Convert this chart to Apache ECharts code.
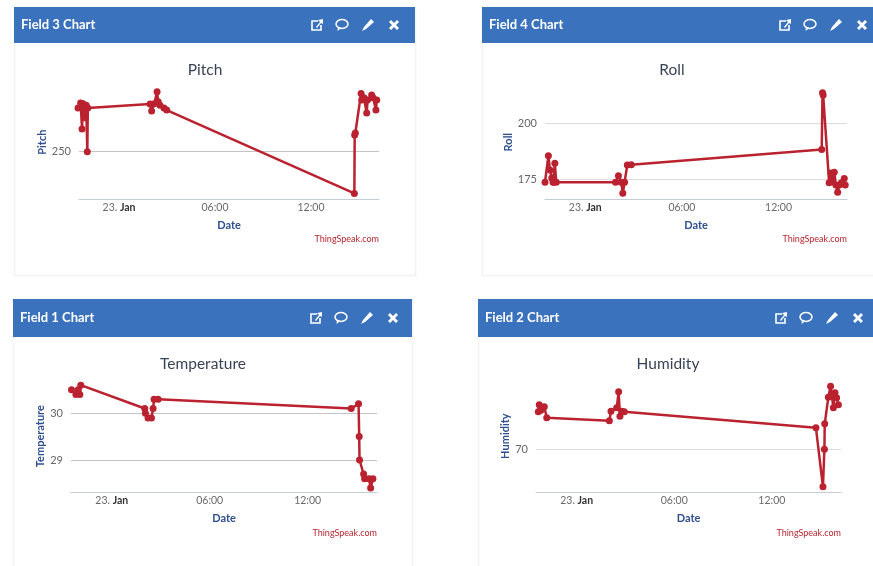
<!DOCTYPE html>
<html>
<head>
<meta charset="utf-8">
<title>ThingSpeak fields</title>
<script src="https://cdn.jsdelivr.net/npm/echarts@6/dist/echarts.min.js"></script>
<style>
  html, body { margin: 0; padding: 0; background: #fff; }
  #main { width: 873px; height: 566px; }
</style>
</head>
<body>
<div id="main"></div>
<script>
// hours are counted from midnight on 23 Jan
var tickHours = [0, 6, 12];
var tickLabels = ['{d|23.} {b|Jan}', '06:00', '12:00'];
var startHour = -2.5;
var endHour = 16.25;

var pitchHours = [-2.56, -2.4, -2.31, -2.25, -2.2, -2.13, -2.05, -1.98, -1.95, 1.94, 2.04, 2.2, 2.38, 2.45, 2.56, 2.81, 2.98, 14.71, 14.73, 14.77, 15.13, 15.17, 15.31, 15.48, 15.54, 15.79, 15.88, 16.06, 16.11];
var pitchValues = [281, 284.5, 266, 284, 279, 274, 283, 249.7, 281, 283.8, 278.8, 284, 292.6, 285.4, 283, 281, 279.5, 219.9, 261.6, 263.1, 291.4, 286.6, 288.3, 277.4, 286.6, 290.2, 288.3, 279.5, 286.6];

var rollHours = [-2.5, -2.29, -2.19, -2.08, -2, -1.94, -1.89, -1.8, 1.88, 2.06, 2.23, 2.33, 2.44, 2.61, 2.86, 14.68, 14.73, 14.77, 15.14, 15.25, 15.35, 15.46, 15.56, 15.67, 15.77, 15.9, 16.08, 16.14];
var rollValues = [173.7, 185.5, 179.1, 175.6, 173.7, 173.7, 182.1, 173.7, 173.7, 176.6, 173.7, 168.8, 173.7, 181.4, 181.5, 188.2, 213.5, 212.5, 173.5, 177.8, 173.9, 178.1, 172.5, 169.2, 172.5, 173.5, 175.4, 172.5];

var temperatureHours = [-2.47, -2.2, -2.06, -1.96, -1.9, 2.02, 2.06, 2.22, 2.43, 2.53, 2.59, 2.84, 14.67, 15.12, 15.16, 15.18, 15.43, 15.49, 15.76, 15.86, 16];
var temperatureValues = [30.5, 30.4, 30.5, 30.4, 30.6, 30.1, 30, 29.9, 29.9, 30.1, 30.3, 30.3, 30.1, 30.2, 29.5, 29, 28.7, 28.6, 28.6, 28.4, 28.6];

var humidityHours = [-2.36, -2.3, -2.2, -2.15, -1.99, -1.84, 2.01, 2.11, 2.46, 2.58, 2.66, 2.77, 2.93, 14.71, 15.14, 15.23, 15.25, 15.47, 15.61, 15.7, 15.78, 15.88, 15.98, 16.09];
var humidityValues = [77.5, 78.9, 77.8, 78.4, 78.5, 76.3, 75.7, 77.6, 78.3, 81.5, 76.6, 77.6, 77.5, 74.3, 62.5, 70, 75.1, 80.4, 82.6, 80.5, 78.3, 81.3, 80.3, 78.9];

var panels = [
  { head: 'Field 3 Chart', title: 'Pitch', hours: pitchHours, values: pitchValues, ticks: [250], min: 215.7, max: 297.4,
    card: [14, 7, 401, 268], headH: 36, plot: [79, 85, 300, 114.3], titleX: 205, titleY: 68, nameGap: 30, creditY: 239, grid: '#c4c4c4' },
  { head: 'Field 4 Chart', title: 'Roll', hours: rollHours, values: rollValues, ticks: [175, 200], min: 166.1, max: 216.9,
    card: [482, 7, 395, 268], headH: 36, plot: [545, 85, 302, 114.3], titleX: 672, titleY: 68, nameGap: 27, creditY: 239, grid: '#dcdcdc' },
  { head: 'Field 1 Chart', title: 'Temperature', hours: temperatureHours, values: temperatureValues, ticks: [29, 30], min: 28.31, max: 30.71,
    card: [13, 299, 399, 272], headH: 38, plot: [71, 380, 306, 112.3], titleX: 203, titleY: 362, nameGap: 23, creditY: 533, grid: '#c4c4c4' },
  { head: 'Field 2 Chart', title: 'Humidity', hours: humidityHours, values: humidityValues, ticks: [70], min: 61.4, max: 83.86,
    card: [478, 299, 399, 272], headH: 38, plot: [536, 380, 305, 112.3], titleX: 668, titleY: 362, nameGap: 23, creditY: 533, grid: '#dcdcdc' }
];

var iconOffsets = [303, 328, 354, 380];

var font = 'Lato, "Open Sans", sans-serif';
var grids = [], xAxes = [], yAxes = [], titles = [], series = [], graphics = [];

// header icons: edit box, comment, pencil, close
function addIcons(cx, cy) {
  var white = { fill: '#fff' };
  var x = cx + iconOffsets[0], y = cy;
  graphics.push({
    type: 'polyline', silent: true,
    shape: { points: [[x + 1, y - 4], [x - 5, y - 4], [x - 5, y + 5], [x + 4, y + 5], [x + 4, y]] },
    style: { fill: 'none', stroke: '#fff', lineWidth: 1.6 }
  });
  graphics.push({
    type: 'polygon', silent: true,
    shape: { points: [[x - 1, y + 2], [x + 3, y - 3], [x + 1, y - 5], [x + 6, y - 6], [x + 6, y - 1], [x + 4, y - 2], [x, y + 3]] },
    style: white
  });
  x = cx + iconOffsets[1];
  graphics.push({
    type: 'ellipse', silent: true,
    shape: { cx: x, cy: y - 1, rx: 6, ry: 4.4 },
    style: { fill: 'none', stroke: '#fff', lineWidth: 1.5 }
  });
  graphics.push({
    type: 'polygon', silent: true,
    shape: { points: [[x - 4, y + 2], [x - 4.500, y + 6], [x - 0.5, y + 3]] },
    style: white
  });
  x = cx + iconOffsets[2];
  graphics.push({
    type: 'polygon', silent: true,
    shape: { points: [[x + 3, y - 6], [x + 6, y - 3], [x - 2, y + 4], [x - 6, y + 6], [x - 4, y + 2]] },
    style: white
  });
  x = cx + iconOffsets[3];
  graphics.push({
    type: 'polygon', silent: true,
    shape: { points: [[x - 5, y - 3], [x - 3, y - 5], [x, y - 2], [x + 3, y - 5], [x + 5, y - 3], [x + 2, y], [x + 5, y + 3], [x + 3, y + 5], [x, y + 2], [x - 3, y + 5], [x - 5, y + 3], [x - 2, y]] },
    style: white
  });
}

panels.forEach(function (p, i) {
  var c = p.card;
  grids.push({ left: p.plot[0], top: p.plot[1], width: p.plot[2], height: p.plot[3] });
  titles.push({
    text: p.title,
    left: p.titleX - 5,
    top: p.titleY - 11,
    textAlign: 'center',
    textStyle: { fontFamily: font, fontSize: 15.5, fontWeight: 'normal', color: '#3a4356' }
  });
  xAxes.push({
    type: 'value',
    gridIndex: i,
    min: startHour,
    max: endHour,
    name: 'Date',
    nameLocation: 'middle',
    nameGap: 21,
    nameTextStyle: { fontFamily: font, fontSize: 11, fontWeight: 'bold', color: '#2f4f8f' },
    axisLine: { show: true, onZero: false, lineStyle: { color: '#c4ccd6', width: 1 } },
    axisTick: { show: false, customValues: tickHours },
    splitLine: { show: false },
    axisLabel: {
      customValues: tickHours,
      margin: 3,
      fontFamily: font,
      fontSize: 10.5,
      color: '#6a6a6a',
      rich: {
        d: { fontFamily: font, fontSize: 10.5, color: '#6a6a6a' },
        b: { fontFamily: font, fontSize: 10.5, color: '#333', fontWeight: 'bold' }
      },
      formatter: function (val) {
        return tickLabels[tickHours.indexOf(val)];
      }
    }
  });
  yAxes.push({
    type: 'value',
    gridIndex: i,
    min: p.min,
    max: p.max,
    name: p.title,
    nameLocation: 'middle',
    nameGap: p.nameGap,
    nameRotate: 90,
    nameTextStyle: { fontFamily: font, fontSize: 11, fontWeight: 'bold', color: '#2f4f8f' },
    axisLine: { show: false },
    axisTick: { show: false, customValues: p.ticks },
    splitLine: { show: true, lineStyle: { color: p.grid, width: 1 } },
    axisLabel: {
      customValues: p.ticks,
      margin: 8,
      fontFamily: font,
      fontSize: 11,
      color: '#666'
    }
  });
  series.push({
    type: 'line',
    name: p.title,
    xAxisIndex: i,
    yAxisIndex: i,
    clip: false,
    animation: false,
    symbol: 'circle',
    symbolSize: 7,
    showAllSymbols: true,
    lineStyle: { color: '#bb2230', width: 2.5 },
    itemStyle: { color: '#bb2230' },
    data: p.hours.map(function (h, k) {
      return [h, p.values[k]];
    })
  });

  // card and blue header
  graphics.push({
    type: 'rect', z: -1, silent: true,
    shape: { x: c[0] + 0.5, y: c[1] + 0.5, width: c[2], height: c[3] },
    style: { fill: '#fff', stroke: '#f5f5f5', lineWidth: 2 }
  });
  graphics.push({
    type: 'rect', z: -1, silent: true,
    shape: { x: c[0], y: c[1], width: c[2], height: p.headH },
    style: { fill: '#3a72bd' }
  });
  graphics.push({
    type: 'text', silent: true, x: c[0] + 7, y: c[1] + p.headH / 2,
    style: { text: p.head, fill: '#fff', font: 'bold 13px ' + font, textVerticalAlign: 'middle' }
  });
  addIcons(c[0], c[1] + p.headH / 2);
  graphics.push({
    type: 'text', silent: true, x: p.plot[0] + p.plot[2], y: p.creditY,
    style: { text: 'ThingSpeak.com', fill: '#b5252f', font: '9px ' + font, textAlign: 'right', textVerticalAlign: 'middle' }
  });
});

var chart = echarts.init(document.getElementById('main'), null, { renderer: 'canvas' });
chart.setOption({
  animation: false,
  backgroundColor: '#fff',
  title: titles,
  grid: grids,
  xAxis: xAxes,
  yAxis: yAxes,
  series: series,
  graphic: graphics
});
</script>
</body>
</html>
